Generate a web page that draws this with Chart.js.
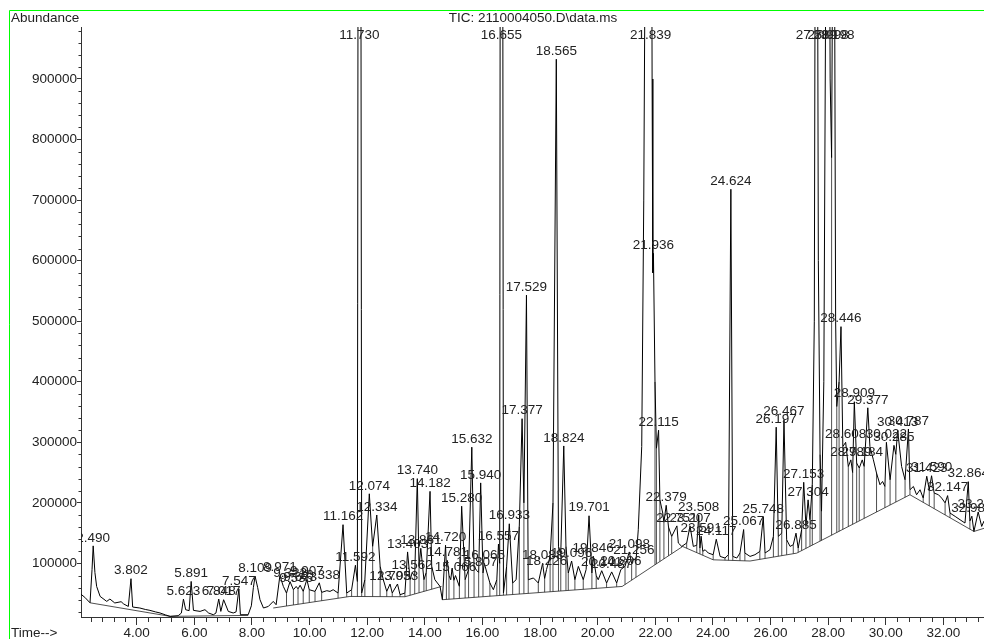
<!DOCTYPE html>
<html>
<head>
<meta charset="utf-8">
<title>TIC: 2110004050.D\data.ms</title>
<script src="https://cdn.jsdelivr.net/npm/chart.js@4.4.1/dist/chart.umd.min.js"></script>
<style>
  html, body { margin: 0; padding: 0; background: #fff; }
  canvas { display: block; }
</style>
</head>
<body>
<canvas id="tic" width="984" height="639"></canvas>
<script>
// Total ion chromatogram: retention time (min) against abundance
const retentionTime = [
  2.07, 2.20, 2.38, 2.45, 2.49, 2.55, 2.61, 2.73, 2.96, 3.07, 3.24, 3.46, 3.55, 3.71, 3.802, 3.86,
  4.11, 4.30, 4.46, 4.65, 4.81, 5.00, 5.16, 5.44, 5.55, 5.623, 5.70, 5.82, 5.891, 5.97,
  6.20, 6.37, 6.50, 6.66, 6.75, 6.848, 6.92, 7.017, 7.18, 7.35, 7.45, 7.547, 7.60, 7.87,
  7.98, 8.05, 8.109, 8.20, 8.28, 8.40, 8.57, 8.74, 8.84, 8.971, 9.09, 9.20, 9.322, 9.44,
  9.536, 9.60, 9.673, 9.78, 9.907, 9.99, 10.19, 10.338, 10.42, 10.60, 10.71, 10.82, 10.99,
  11.162, 11.29, 11.46, 11.592, 11.66, 11.730, 11.81, 11.92, 12.074, 12.19, 12.334, 12.45,
  12.56, 12.68, 12.793, 12.87, 13.053, 13.14, 13.31, 13.403, 13.49, 13.562, 13.65, 13.740,
  13.80, 13.861, 13.97, 14.05, 14.182, 14.24, 14.35, 14.53, 14.61, 14.720, 14.75, 14.781,
  14.84, 14.90, 14.95, 15.01, 15.066, 15.20, 15.280, 15.40, 15.52, 15.632, 15.71, 15.807,
  15.87, 15.940, 16.02, 16.065, 16.26, 16.38, 16.50, 16.557, 16.60, 16.655, 16.73, 16.84,
  16.933, 17.05, 17.17, 17.28, 17.377, 17.44, 17.529, 17.59, 17.77, 17.94, 18.088, 18.16,
  18.226, 18.35, 18.45, 18.565, 18.64, 18.72, 18.824, 18.90, 18.98, 19.096, 19.21, 19.33,
  19.50, 19.60, 19.701, 19.80, 19.846, 19.95, 20.02, 20.141, 20.31, 20.487, 20.66, 20.806,
  20.95, 21.098, 21.18, 21.256, 21.33, 21.41, 21.53, 21.60, 21.68, 21.839, 21.89, 21.915,
  21.936, 21.99, 22.04, 22.115, 22.16, 22.26, 22.30, 22.379, 22.46, 22.57, 22.751, 22.80,
  22.92, 23.09, 23.207, 23.32, 23.44, 23.508, 23.55, 23.591, 23.65, 23.73, 23.84, 24.01,
  24.117, 24.25, 24.42, 24.54, 24.624, 24.69, 24.83, 24.94, 25.067, 25.11, 25.29, 25.46,
  25.63, 25.748, 25.81, 25.98, 26.10, 26.197, 26.27, 26.39, 26.467, 26.56, 26.68, 26.79,
  26.885, 26.96, 27.08, 27.153, 27.23, 27.304, 27.37, 27.45, 27.52, 27.589, 27.66, 27.72,
  27.77, 27.85, 27.93, 27.998, 28.07, 28.12, 28.198, 28.26, 28.30, 28.38, 28.446, 28.51,
  28.608, 28.70, 28.789, 28.85, 28.909, 28.99, 29.08, 29.184, 29.25, 29.377, 29.45, 29.57,
  29.68, 29.80, 29.89, 29.97, 30.022, 30.15, 30.285, 30.35, 30.413, 30.55, 30.67, 30.787,
  30.84, 30.96, 31.07, 31.19, 31.30, 31.423, 31.51, 31.590, 31.68, 31.83, 31.94, 32.06,
  32.147, 32.23, 32.41, 32.58, 32.75, 32.864, 32.92, 32.989, 33.06, 33.208, 33.33, 33.41
];

const abundance = [
  49000, 44000, 35000, 90000, 129000, 85000, 62000, 45600, 37300, 41200, 34700, 36800, 33000, 29000, 74800, 28000,
  26400, 24000, 22500, 20000, 18200, 15000, 12600, 13700, 18000, 41200, 23600, 22000, 70300, 22500,
  20800, 23600, 18000, 15300, 18000, 41200, 20800, 40100, 20800, 18200, 20000, 58000, 15300, 15300,
  30000, 60000, 79000, 60000, 40100, 26400, 29000, 37300, 31800, 80000, 62000, 51100, 70000, 56600,
  62000, 58000, 64000, 53800, 73500, 56600, 53800, 68000, 52200, 55000, 53800, 56600, 51100,
  164000, 51100, 56600, 97000, 70000, 3200000, 51100, 73100, 215000, 128100, 180000, 95100,
  73100, 53800, 66000, 51100, 66000, 48400, 51100, 119000, 73100, 84500, 80000, 240000,
  95100, 125000, 73100, 85000, 219000, 95100, 73100, 62000, 40100, 130000, 95000, 105000,
  80000, 73100, 92400, 72000, 80000, 62000, 194500, 73100, 90000, 292000, 95100, 88000,
  85000, 233000, 84200, 100000, 67700, 56600, 73100, 132000, 100000, 3500000, 51100, 95100,
  165500, 67700, 73100, 161100, 339000, 200000, 543000, 73100, 76000, 67700, 100000, 75000,
  90000, 111600, 200000, 932600, 128100, 117200, 294000, 128100, 84200, 104000, 73100, 95100,
  73100, 90000, 178700, 84200, 112000, 80000, 73100, 88000, 67700, 86000, 67700, 90000,
  95100, 119000, 100000, 108000, 104000, 155600, 293100, 700000, 1400000, 1900000, 900000, 580000,
  612000, 400000, 290000, 320000, 205100, 183200, 168000, 196000, 160000, 144600, 162000, 133700,
  128100, 133700, 162000, 128100, 130000, 180000, 125400, 145000, 120000, 122600, 117200, 114400,
  140000, 111600, 108900, 114400, 717900, 111600, 108900, 117200, 156000, 117200, 111600, 114400,
  119800, 177000, 117200, 122600, 144600, 325000, 144600, 150200, 337500, 139100, 128100, 130900,
  150000, 125400, 155600, 234000, 161100, 205000, 172100, 230000, 500000, 2000000, 600000, 280000,
  186000, 400000, 1200000, 1700000, 900000, 770000, 1500000, 500000, 359000, 400000, 491000, 293000,
  300000, 260000, 271000, 250000, 367000, 265700, 257500, 271000, 260100, 357000, 293100, 271200,
  249200, 229900, 235300, 227100, 300000, 238100, 295000, 280000, 320000, 260100, 238100, 322000,
  221700, 227100, 213400, 221700, 207900, 244000, 221700, 244800, 216200, 213400, 207900, 200000,
  212000, 183200, 177600, 172100, 166700, 235000, 170000, 178000, 152800, 185000, 161100, 170000
];

// Retention times printed above the integrated peaks
const peakLabels = [
  '2.490', '3.802', '5.623', '5.891', '6.848', '7.017', '7.547', '8.109', '8.971', '9.322',
  '9.536', '9.673', '9.907', '10.338', '11.162', '11.592', '11.730', '12.074', '12.334', '12.793',
  '13.053', '13.403', '13.562', '13.740', '13.861', '14.182', '14.720', '14.781', '15.066', '15.280',
  '15.632', '15.807', '15.940', '16.065', '16.557', '16.655', '16.933', '17.377', '17.529', '18.088',
  '18.226', '18.565', '18.824', '19.096', '19.701', '19.846', '20.141', '20.487', '20.806', '21.098',
  '21.256', '21.839', '21.936', '22.115', '22.379', '22.751', '23.207', '23.508', '23.591', '24.117',
  '24.624', '25.067', '25.748', '26.197', '26.467', '26.885', '27.153', '27.304', '27.589', '27.998',
  '28.198', '28.446', '28.608', '28.789', '28.909', '29.184', '29.377', '30.022', '30.285', '30.413',
  '30.787', '31.423', '31.590', '32.147', '32.864', '32.989', '33.208'
];

// Integration baseline (null separates the baseline segments)
const baselineTime      = [2.38, 5.16, 7.87, null, 8.74, 11.40, 13.31, 14.58, null,
                           14.61, 20.85, 22.95, 24.01, 25.29, 26.91, 30.84, 33.06, 33.41];
const baselineAbundance = [35000, 12600, 14200, null, 26400, 45500, 45000, 62000, null,
                           40100, 62000, 128000, 106000, 104000, 117000, 213400, 152800, 158000];

// Valleys where the integrator drops a line down to the baseline
const dropLineTime = [
  9.20, 9.44, 9.60, 9.78, 9.99, 10.19, 10.42, 10.99, 11.29, 11.46, 11.66, 11.81, 11.92, 12.19,
  12.45, 12.68, 12.87, 13.14, 13.31, 13.49, 13.65, 13.80, 13.97, 14.05, 14.24, 14.53, 14.75, 14.84,
  15.01, 15.20, 15.40, 15.52, 15.71, 15.87, 16.02, 16.26, 16.50, 16.60, 16.73, 16.84, 17.05, 17.28,
  17.44, 17.59, 17.94, 18.16, 18.35, 18.45, 18.64, 18.72, 18.90, 18.98, 19.21, 19.50, 19.80, 19.95,
  20.31, 20.66, 20.95, 21.18, 21.33, 21.99, 22.04, 22.16, 22.30, 22.46, 22.57, 22.92, 23.09, 23.44,
  23.55, 23.65, 24.01, 24.42, 24.54, 24.69, 24.94, 25.11, 25.63, 25.81, 26.10, 26.27, 26.39, 26.56,
  26.79, 26.96, 27.08, 27.23, 27.37, 27.45, 27.72, 27.77, 28.12, 28.30, 28.38, 28.51, 28.70, 28.85,
  28.99, 29.08, 29.25, 29.68, 29.97, 30.15, 30.35, 30.67, 30.84, 31.30, 31.51, 31.68, 32.06, 32.23,
  32.92, 33.06
];

const xTickLabels = ['4.00', '6.00', '8.00', '10.00', '12.00', '14.00', '16.00', '18.00',
                     '20.00', '22.00', '24.00', '26.00', '28.00', '30.00', '32.00'];
const yTickLabels = ['100000', '200000', '300000', '400000', '500000',
                     '600000', '700000', '800000', '900000'];

const FONT = "'Liberation Sans', Arial, Helvetica, sans-serif";
const INK = '#222';
const AXIS = '#333';

Chart.defaults.font.family = FONT;
Chart.defaults.font.size = 13.5;
Chart.defaults.color = INK;

function baselineAt(t) {
  for (let i = 0; i < baselineTime.length - 1; i++) {
    const t0 = baselineTime[i], t1 = baselineTime[i + 1];
    if (t0 === null || t1 === null) continue;
    if (t >= t0 && t <= t1) {
      const v0 = baselineAbundance[i], v1 = baselineAbundance[i + 1];
      return v0 + (v1 - v0) * (t - t0) / (t1 - t0);
    }
  }
  return null;
}

const traceData = retentionTime.map((t, i) => ({ x: t, y: abundance[i] }));

const baselineData = [];
baselineTime.forEach((t, i) => {
  if (t === null) {
    baselineData.push({ x: baselineTime[i - 1], y: null });
  } else {
    baselineData.push({ x: t, y: baselineAbundance[i] });
  }
});

const dropData = [];
dropLineTime.forEach(t => {
  const i = retentionTime.indexOf(t);
  const base = baselineAt(t);
  if (i < 0 || base === null) return;
  dropData.push({ x: t, y: base }, { x: t, y: abundance[i] }, { x: t, y: null });
});

// Retention-time labels above each peak, kept inside the plot area
const peakLabelPlugin = {
  id: 'peakLabels',
  afterDatasetsDraw(chart) {
    const { ctx, chartArea: a, scales: { x, y } } = chart;
    ctx.save();
    ctx.beginPath();
    ctx.rect(a.left, a.top, a.right - a.left, a.bottom - a.top);
    ctx.clip();
    ctx.font = '13.5px ' + FONT;
    ctx.fillStyle = INK;
    ctx.textAlign = 'center';
    ctx.textBaseline = 'middle';
    peakLabels.forEach(label => {
      const t = parseFloat(label);
      const i = retentionTime.indexOf(t);
      if (i < 0) return;
      const px = x.getPixelForValue(t);
      const py = y.getPixelForValue(abundance[i]);
      ctx.fillText(label, px, Math.max(py - 8, a.top + 8));
    });
    ctx.restore();
  }
};

// Minor ticks, the green page frame and the header / axis captions
const framePlugin = {
  id: 'frame',
  afterDraw(chart) {
    const { ctx, chartArea: a, scales: { x, y } } = chart;
    ctx.save();
    ctx.strokeStyle = AXIS;
    ctx.lineWidth = 1;
    ctx.beginPath();
    for (let i = 1; i * 0.4 <= x.max; i++) {
      if (i % 5 === 0) continue;
      const t = i * 0.4;
      if (t < x.min) continue;
      const px = Math.round(x.getPixelForValue(t)) + 0.5;
      ctx.moveTo(px, a.bottom);
      ctx.lineTo(px, a.bottom + 5);
    }
    for (let j = 1; j * 20000 <= y.max; j++) {
      if (j % 5 === 0) continue;
      const v = j * 20000;
      if (v < y.min) continue;
      const py = Math.round(y.getPixelForValue(v)) + 0.5;
      ctx.moveTo(a.left - 2.5, py);
      ctx.lineTo(a.left, py);
    }
    ctx.stroke();

    ctx.strokeStyle = '#00ff00';
    ctx.beginPath();
    ctx.moveTo(9.5, chart.height);
    ctx.lineTo(9.5, 10.5);
    ctx.lineTo(chart.width, 10.5);
    ctx.stroke();

    ctx.fillStyle = INK;
    ctx.font = '13.5px ' + FONT;
    ctx.textBaseline = 'middle';
    ctx.textAlign = 'left';
    ctx.fillText('Abundance', 11, 18.5);
    ctx.fillText('Time-->', 11, 633);
    ctx.textAlign = 'center';
    ctx.fillText('TIC: 2110004050.D\\data.ms', 533, 18.5);
    ctx.restore();
  }
};

new Chart(document.getElementById('tic'), {
  type: 'scatter',
  data: {
    datasets: [
      {
        data: traceData, showLine: true, borderColor: '#000', borderWidth: 1,
        borderJoinStyle: 'round', pointRadius: 0, tension: 0
      },
      {
        data: baselineData, showLine: true, borderColor: '#222', borderWidth: 0.8,
        pointRadius: 0, tension: 0, spanGaps: false
      },
      {
        data: dropData, showLine: true, borderColor: '#222', borderWidth: 0.8,
        pointRadius: 0, tension: 0, spanGaps: false
      }
    ]
  },
  options: {
    responsive: false,
    animation: false,
    devicePixelRatio: 1,
    events: [],
    layout: { padding: { top: 27, left: 0, right: 0, bottom: 0 } },
    plugins: {
      legend: { display: false },
      tooltip: { enabled: false },
      title: { display: false }
    },
    scales: {
      x: {
        type: 'linear',
        min: 2.067,
        max: 33.41,
        afterFit(s) { s.height = 22; },
        afterBuildTicks(s) { s.ticks = xTickLabels.map(l => ({ value: parseFloat(l) })); },
        ticks: {
          padding: 0, maxRotation: 0, autoSkip: false, color: INK,
          callback: v => xTickLabels.find(l => parseFloat(l) === v) || ''
        },
        grid: { drawOnChartArea: false, drawTicks: true, tickLength: 8, tickColor: AXIS },
        border: { display: true, color: AXIS, width: 1 }
      },
      y: {
        type: 'linear',
        min: 11550,
        max: 985800,
        afterFit(s) { s.width = 81; },
        afterBuildTicks(s) { s.ticks = yTickLabels.map(l => ({ value: parseFloat(l) })); },
        ticks: {
          padding: 0, autoSkip: false, color: INK,
          callback: v => yTickLabels.find(l => parseFloat(l) === v) || ''
        },
        grid: { drawOnChartArea: false, drawTicks: true, tickLength: 4, tickColor: AXIS },
        border: { display: true, color: AXIS, width: 1 }
      }
    }
  },
  plugins: [peakLabelPlugin, framePlugin]
});
</script>
</body>
</html>
